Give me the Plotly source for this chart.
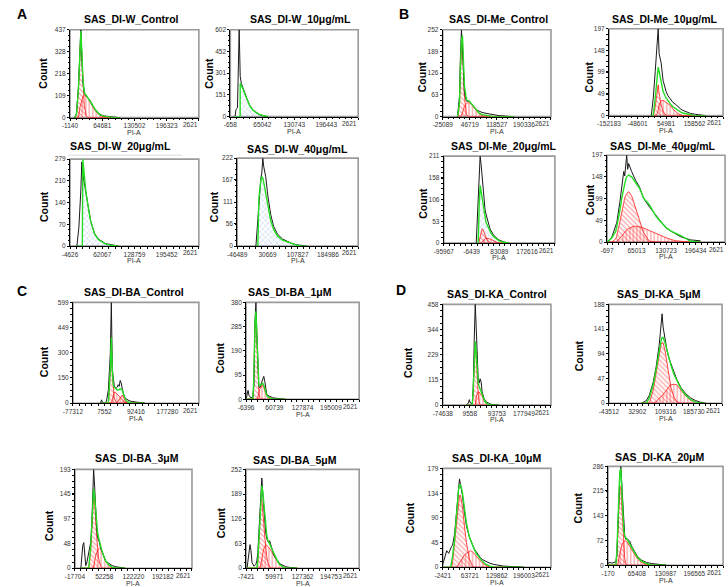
import plotly.graph_objects as go

W, H = 728, 587
FONT = "Arial, Liberation Sans, sans-serif"
X_END = 262144

# ---------------- A: SAS_DI-W ----------------
a1_x = [8000, 12000, 16000, 19000, 21000, 23000, 25000, 28000, 32000, 36000, 40000, 45000, 50000, 55000, 60000, 70000, 80000, 90000, 100000]
a1_raw = [0, 20, 150, 380, 437, 300, 180, 120, 110, 100, 85, 60, 40, 25, 15, 8, 5, 3, 0]
a1_fit = [0, 15, 140, 360, 430, 330, 200, 125, 110, 100, 85, 62, 40, 25, 14, 6, 2, 0, 0]
a1_g1 = [0, 15, 140, 355, 420, 310, 170, 60, 10, 0, 0, 0, 0, 0, 0, 0, 0, 0, 0]
a1_s = [0, 0, 0, 50, 70, 95, 105, 110, 105, 95, 80, 55, 35, 20, 10, 2, 0, 0, 0]

a2_x = [9000, 11000, 14000, 16000, 17500, 19000, 19500, 19600, 22000, 25000, 30000, 35000, 40000, 46000, 52000, 58000, 66000, 76000]
a2_raw = [0, 50, 60, 400, 602, 380, 300, 280, 230, 200, 150, 110, 75, 45, 28, 15, 6, 0]
a2_fit = [0, 0, 0, 0, 0, 0, 0, 230, 215, 195, 150, 105, 70, 45, 28, 17, 8, 2]

a3_x = [9629, 13701, 17774, 19811, 20829, 21847, 23884, 27956, 34066, 38138, 46284, 54430, 68684, 78866, 95158]
a3_raw = [0, 60, 180, 270, 240, 230, 210, 175, 120, 80, 40, 22, 8, 4, 0]
a3_fit = [0, 0, 0, 0, 0, 279, 235, 178, 115, 80, 38, 20, 7, 3, 0]

a4_x = [1186, 6204, 8713, 11222, 13731, 16240, 18749, 21258, 26277, 31296, 38825, 46353, 56390, 68935, 81480, 94025, 106570, 119115, 131660]
a4_raw = [0, 80, 120, 150, 170, 185, 222, 200, 175, 130, 80, 50, 30, 18, 12, 6, 3, 1, 0]
a4_fit = [0, 0, 120, 150, 165, 175, 172, 160, 130, 100, 65, 42, 25, 15, 10, 5, 2, 0, 0]

# ---------------- B: SAS_DI-Me ----------------
b1_x = [14079, 19301, 21913, 24524, 27135, 29746, 32357, 37580, 40191, 45413, 50636, 53247, 58469, 63692, 71525, 79359, 97637, 110693, 123749, 149861, 162917]
b1_raw = [0, 60, 180, 252, 200, 150, 70, 45, 45, 45, 38, 35, 28, 20, 15, 12, 8, 5, 3, 1, 0]
b1_fit = [0, 40, 150, 220, 235, 150, 90, 50, 47, 45, 38, 35, 25, 18, 10, 6, 2, 0, 0, 0, 0]
b1_g1 = [0, 35, 140, 200, 220, 140, 60, 8, 2, 0, 0, 0, 0, 0, 0, 0, 0, 0, 0, 0, 0]
b1_s = [0, 0, 0, 5, 10, 20, 30, 38, 40, 40, 36, 33, 25, 18, 8, 3, 0, 0, 0, 0, 0]

b2_x = [1404, 8548, 15692, 19263, 22835, 26407, 29979, 33551, 37122, 44266, 54981, 62125, 72840, 79984, 90699, 97843, 108558, 115702, 144276, 162135, 179994, 197853]
b2_raw = [0, 40, 100, 130, 150, 197, 140, 130, 120, 80, 55, 45, 35, 30, 25, 20, 15, 12, 5, 3, 2, 0]
b2_fit = [0, 0, 40, 60, 90, 110, 100, 90, 80, 55, 40, 33, 25, 20, 15, 12, 8, 6, 2, 0, 0, 0]
b2_g1 = [0, 0, 20, 40, 60, 70, 50, 35, 25, 10, 0, 0, 0, 0, 0, 0, 0, 0, 0, 0, 0, 0]
b2_s = [0, 0, 0, 0, 5, 12, 25, 30, 33, 35, 30, 28, 22, 15, 8, 5, 2, 0, 0, 0, 0, 0]

b3_x = [8613, 14952, 18121, 21290, 24459, 27628, 30797, 33966, 37135, 40304, 43473, 46643, 52981, 56150, 65657, 78334, 81503, 97348, 113194]
b3_raw = [0, 120, 180, 211, 190, 160, 130, 105, 80, 70, 60, 50, 35, 30, 18, 10, 8, 3, 0]
b3_fit = [0, 0, 90, 140, 125, 110, 90, 70, 58, 50, 45, 40, 28, 24, 15, 7, 6, 2, 0]
b3_g1 = [0, 0, 5, 15, 28, 35, 32, 25, 18, 12, 8, 4, 0, 0, 0, 0, 0, 0, 0]
b3_s = [0, 0, 0, 0, 0, 3, 6, 9, 11, 12, 12, 11, 10, 9, 5, 1, 0, 0, 0]

b4_x = [-697, 5874, 10255, 19016, 21206, 27777, 32158, 36538, 38728, 40919, 43109, 45299, 47490, 54061, 58441, 62822, 71583, 75964, 80344, 93486, 108818, 119770, 124150, 130721, 141672, 152624, 163576, 185479, 207382]
b4_raw = [0, 5, 12, 35, 45, 90, 125, 160, 150, 185, 197, 165, 178, 160, 150, 140, 125, 114, 100, 80, 60, 45, 40, 32, 25, 18, 12, 5, 3]
b4_fit = [0, 5, 10, 25, 35, 70, 100, 125, 135, 142, 148, 151, 152, 148, 142, 135, 122, 112, 100, 85, 58, 45, 40, 33, 25, 20, 15, 2, 0]
b4_g1 = [0, 0, 0, 8, 15, 45, 70, 92, 100, 106, 111, 113, 114, 105, 92, 78, 48, 35, 22, 2, 0, 0, 0, 0, 0, 0, 0, 0, 0]
b4_s = [0, 0, 0, 0, 2, 8, 14, 20, 23, 26, 28, 30, 31, 34, 36, 36, 35, 34, 32, 26, 20, 15, 13, 10, 6, 3, 2, 0, 0]

# ---------------- C: SAS_DI-BA ----------------
c1_x = [-3056, -404, 2248, 7552, 12856, 18160, 23464, 26116, 28768, 31420, 34072, 39376, 42028, 44680, 47332, 49984, 52636, 55288, 57940, 60592, 63244, 65896, 68548, 71200, 73852, 81808, 97720, 116284]
c1_raw = [0, 20, 5, 0, 10, 80, 300, 599, 200, 150, 100, 90, 95, 110, 100, 135, 120, 90, 60, 40, 30, 25, 22, 20, 15, 10, 5, 0]
c1_fit = [0, 0, 0, 0, 0, 0, 200, 390, 200, 110, 95, 80, 78, 78, 80, 85, 82, 78, 60, 40, 25, 15, 10, 7, 5, 0, 0, 0]
c1_g1 = [0, 0, 0, 0, 0, 0, 190, 380, 180, 80, 30, 5, 0, 0, 0, 0, 0, 0, 0, 0, 0, 0, 0, 0, 0, 0, 0, 0]
c1_s = [0, 0, 0, 0, 0, 0, 0, 0, 20, 45, 65, 60, 55, 45, 40, 35, 28, 20, 12, 8, 5, 2, 0, 0, 0, 0, 0, 0]
c1_g2 = [0, 0, 0, 0, 0, 0, 0, 0, 0, 0, 0, 0, 0, 15, 25, 35, 45, 48, 40, 25, 12, 4, 0, 0, 0, 0, 0, 0]

c2_x = [-6396, -4061, -1726, 609, 5280, 9950, 12285, 14620, 16955, 19290, 21625, 23960, 26295, 28630, 30966, 33301, 35636, 37971, 40306, 42641, 44976, 49646, 54317, 56652, 63657, 72997, 87008]
c2_raw = [0, 20, 35, 15, 5, 10, 60, 300, 380, 250, 120, 50, 45, 55, 70, 75, 90, 70, 35, 20, 15, 10, 8, 6, 4, 2, 0]
c2_fit = [0, 0, 0, 0, 0, 0, 100, 300, 345, 240, 100, 55, 53, 55, 60, 62, 55, 40, 25, 15, 10, 5, 2, 0, 0, 0, 0]
c2_g1 = [0, 0, 0, 0, 0, 0, 90, 290, 330, 230, 90, 30, 5, 0, 0, 0, 0, 0, 0, 0, 0, 0, 0, 0, 0, 0, 0]
c2_s = [0, 0, 0, 0, 0, 0, 0, 0, 0, 0, 10, 30, 40, 45, 55, 55, 48, 35, 22, 12, 8, 3, 0, 0, 0, 0, 0]

c3_x = [-3594, 1110, 3461, 5813, 8165, 10516, 15220, 19923, 22275, 24627, 26978, 29330, 31682, 34033, 36385, 38737, 41088, 43440, 48144, 55199, 62254, 71661, 78716, 85771, 102233]
c3_raw = [0, 45, 50, 30, 5, 10, 30, 50, 80, 130, 193, 160, 110, 80, 60, 55, 50, 40, 30, 15, 10, 5, 3, 2, 0]
c3_fit = [0, 0, 0, 0, 0, 0, 0, 40, 80, 120, 155, 140, 110, 85, 70, 60, 52, 45, 30, 15, 7, 2, 0, 0, 0]
c3_g1 = [0, 0, 0, 0, 0, 0, 0, 35, 75, 115, 145, 130, 95, 60, 38, 20, 10, 5, 0, 0, 0, 0, 0, 0, 0]
c3_s = [0, 0, 0, 0, 0, 0, 0, 0, 0, 0, 5, 12, 25, 30, 35, 38, 40, 38, 30, 15, 6, 0, 0, 0, 0]

c4_x = [-5077, -389, 1955, 4299, 6643, 11331, 16019, 18363, 20707, 23051, 25395, 27739, 30083, 32427, 34771, 37115, 39459, 41803, 44147, 46491, 48835, 53523, 58211, 62899, 67587, 72275, 76963, 81651, 86339, 95715, 114467]
c4_raw = [0, 40, 60, 45, 15, 5, 10, 20, 40, 90, 140, 200, 230, 190, 150, 110, 90, 75, 70, 65, 70, 50, 35, 25, 20, 12, 9, 6, 4, 2, 0]
c4_fit = [0, 0, 0, 0, 0, 0, 0, 0, 20, 70, 140, 195, 210, 195, 165, 130, 100, 85, 72, 68, 62, 50, 38, 27, 18, 10, 5, 2, 0, 0, 0]
c4_g1 = [0, 0, 0, 0, 0, 0, 0, 0, 15, 60, 125, 170, 175, 150, 115, 80, 50, 30, 15, 7, 3, 0, 0, 0, 0, 0, 0, 0, 0, 0, 0]
c4_s = [0, 0, 0, 0, 0, 0, 0, 0, 0, 0, 0, 10, 25, 40, 50, 55, 60, 58, 56, 52, 50, 42, 33, 25, 17, 10, 5, 2, 0, 0, 0]

# ---------------- D: SAS_DI-KA ----------------
d1_x = [-1157, 4966, 8028, 11090, 17213, 20275, 23336, 26398, 29460, 32522, 35583, 38645, 41707, 44768, 47830, 53953, 60077, 69262, 75385, 84570, 99879]
d1_raw = [0, 10, 25, 10, 5, 80, 300, 458, 350, 200, 120, 100, 120, 105, 60, 30, 15, 8, 4, 2, 0]
d1_fit = [0, 0, 0, 0, 0, 80, 200, 290, 240, 150, 100, 85, 75, 62, 50, 25, 10, 2, 0, 0, 0]
d1_g1 = [0, 0, 0, 0, 0, 80, 190, 280, 220, 120, 50, 15, 0, 0, 0, 0, 0, 0, 0, 0, 0]
d1_s = [0, 0, 0, 0, 0, 0, 0, 0, 40, 50, 60, 60, 55, 48, 40, 20, 8, 0, 0, 0, 0]

d2_x = [44199, 57488, 65462, 76094, 84067, 92041, 97357, 100015, 102673, 107988, 113304, 118620, 123936, 131909, 139883, 150515, 163804, 177094, 190383, 203673, 216962]
d2_raw = [0, 5, 15, 40, 70, 110, 150, 170, 145, 120, 100, 85, 75, 60, 45, 30, 18, 10, 5, 2, 0]
d2_fit = [0, 0, 10, 35, 65, 100, 120, 125, 125, 115, 100, 85, 72, 55, 42, 28, 15, 7, 2, 0, 0]
d2_g1 = [0, 0, 0, 25, 60, 95, 112, 115, 115, 100, 75, 50, 30, 12, 3, 0, 0, 0, 0, 0, 0]
d2_s = [0, 0, 0, 0, 3, 10, 12, 14, 16, 20, 26, 32, 35, 36, 35, 25, 14, 6, 2, 0, 0]

d3_x = [-2421, 2389, 7199, 12010, 16820, 19225, 21630, 26440, 31250, 36061, 38466, 40871, 45681, 50491, 55301, 62517, 64922, 69732, 74542, 79352, 84163, 88973, 93783, 98593, 103403, 110619, 113024, 122644, 134670, 146695, 170746, 194796]
d3_raw = [5, 20, 30, 25, 35, 38, 40, 60, 100, 140, 160, 150, 130, 100, 75, 55, 50, 40, 33, 28, 22, 18, 14, 12, 10, 8, 7, 5, 3, 2, 1, 0]
d3_fit = [0, 0, 0, 0, 0, 10, 20, 50, 100, 140, 148, 150, 135, 105, 80, 55, 50, 40, 32, 25, 20, 15, 11, 8, 5, 3, 2, 0, 0, 0, 0, 0]
d3_g1 = [0, 0, 0, 0, 0, 0, 10, 45, 90, 125, 130, 130, 110, 75, 45, 15, 10, 3, 0, 0, 0, 0, 0, 0, 0, 0, 0, 0, 0, 0, 0, 0]
d3_s = [0, 0, 0, 0, 0, 0, 0, 0, 0, 5, 8, 10, 15, 22, 25, 29, 30, 28, 25, 20, 15, 12, 8, 5, 3, 1, 0, 0, 0, 0, 0, 0]

d4_x = [-170, 4314, 8798, 13282, 17766, 20008, 22250, 24492, 26734, 28976, 31218, 33460, 35702, 37944, 40186, 42428, 44670, 49154, 53638, 60364, 67090, 76058, 87268, 98478, 109688, 120898, 132108]
d4_raw = [5, 8, 6, 8, 10, 30, 100, 200, 260, 286, 230, 160, 110, 85, 75, 78, 75, 70, 55, 40, 25, 15, 8, 5, 3, 1, 0]
d4_fit = [0, 0, 0, 0, 0, 40, 120, 220, 270, 280, 220, 140, 100, 85, 78, 75, 72, 62, 50, 35, 22, 12, 5, 1, 0, 0, 0]
d4_g1 = [0, 0, 0, 0, 0, 30, 110, 200, 230, 225, 170, 100, 50, 20, 5, 0, 0, 0, 0, 0, 0, 0, 0, 0, 0, 0, 0]
d4_s = [0, 0, 0, 0, 0, 0, 0, 20, 35, 50, 58, 65, 68, 70, 70, 68, 65, 55, 45, 30, 18, 8, 2, 0, 0, 0, 0]

titles = ["SAS_DI-W_Control", "SAS_DI-W_10μg/mL", "SAS_DI-W_20μg/mL", "SAS_DI-W_40μg/mL",
          "SAS_DI-Me_Control", "SAS_DI-Me_10μg/mL", "SAS_DI-Me_20μg/mL", "SAS_DI-Me_40μg/mL",
          "SAS_DI-BA_Control", "SAS_DI-BA_1μM", "SAS_DI-BA_3μM", "SAS_DI-BA_5μM",
          "SAS_DI-KA_Control", "SAS_DI-KA_5μM", "SAS_DI-KA_10μM", "SAS_DI-KA_20μM"]

x_ticks = [[-1140, 64681, 130502, 196323], [-658, 65042, 130743, 196443],
           [-4626, 62067, 128759, 195452], [-46489, 30669, 107827, 184986],
           [-25089, 46719, 118527, 190336], [-152183, -48601, 54981, 158562],
           [-95967, -6439, 83089, 172616], [-697, 65013, 130723, 196434],
           [-77312, 7552, 92416, 177280], [-6396, 60739, 127874, 195009],
           [-17704, 52258, 122220, 192182], [-7421, 59971, 127362, 194753],
           [-74638, 9558, 93753, 177949], [-43512, 32902, 109316, 185730],
           [-2421, 63721, 129862, 196003], [-170, 65408, 130987, 196565]]
x_last_label = "2621"

y_ticks = [[0, 109, 218, 328, 437], [0, 151, 301, 452, 602], [0, 70, 140, 210, 279], [0, 56, 111, 167, 222],
           [0, 63, 126, 189, 252], [0, 49, 99, 148, 197], [0, 53, 106, 158, 211], [0, 49, 99, 148, 197],
           [0, 150, 300, 449, 599], [0, 95, 190, 285, 380], [0, 48, 97, 145, 193], [0, 63, 126, 189, 252],
           [0, 115, 229, 344, 458], [0, 47, 94, 141, 188], [0, 45, 90, 134, 179], [0, 72, 143, 215, 286]]

panels = [
    dict(x=a1_x, raw=a1_raw, fit=a1_fit, g1=a1_g1, s=a1_s),
    dict(x=a2_x, raw=a2_raw, fit=a2_fit, blue=True),
    dict(x=a3_x, raw=a3_raw, fit=a3_fit, blue=True),
    dict(x=a4_x, raw=a4_raw, fit=a4_fit, blue=True),
    dict(x=b1_x, raw=b1_raw, fit=b1_fit, g1=b1_g1, s=b1_s),
    dict(x=b2_x, raw=b2_raw, fit=b2_fit, g1=b2_g1, s=b2_s),
    dict(x=b3_x, raw=b3_raw, fit=b3_fit, g1=b3_g1, s=b3_s, blue=True),
    dict(x=b4_x, raw=b4_raw, fit=b4_fit, g1=b4_g1, s=b4_s),
    dict(x=c1_x, raw=c1_raw, fit=c1_fit, g1=c1_g1, s=c1_s, g2=c1_g2),
    dict(x=c2_x, raw=c2_raw, fit=c2_fit, g1=c2_g1, s=c2_s),
    dict(x=c3_x, raw=c3_raw, fit=c3_fit, g1=c3_g1, s=c3_s),
    dict(x=c4_x, raw=c4_raw, fit=c4_fit, g1=c4_g1, s=c4_s),
    dict(x=d1_x, raw=d1_raw, fit=d1_fit, g1=d1_g1, s=d1_s),
    dict(x=d2_x, raw=d2_raw, fit=d2_fit, g1=d2_g1, s=d2_s),
    dict(x=d3_x, raw=d3_raw, fit=d3_fit, g1=d3_g1, s=d3_s),
    dict(x=d4_x, raw=d4_raw, fit=d4_fit, g1=d4_g1, s=d4_s),
]

# pixel layout: box left, right, top, bottom, title x, y, "Count" x, y
boxes = [
    (59, 190, 26, 115, 121, 15, 32, 70), (222, 352, 26, 114, 293, 15, 200, 70),
    (59, 190, 157, 245, 110, 144, 32, 205), (229, 352, 156, 245, 290, 147, 205, 205),
    (438, 548, 26, 114, 495, 15, 417, 74), (607, 723, 25, 113, 664, 15, 587, 74),
    (439, 552, 154, 242, 500, 144, 417, 202), (605, 725, 153, 241, 662, 144, 587, 198),
    (62, 190, 302, 404, 124, 291, 32, 362), (238, 353, 302, 400, 283, 291, 211, 358),
    (64, 183, 471, 571, 127, 459, 37, 528), (238, 353, 471, 571, 288, 461, 212, 525),
    (438, 548, 304, 406, 493, 293, 402, 363), (607, 722, 304, 404, 658, 293, 576, 356),
    (438, 548, 470, 570, 493, 459, 404, 520), (606, 723, 468, 568, 659, 458, 575, 510),
]

letters = [("A", 3, 10), ("B", 391, 10), ("C", 3, 290), ("D", 388, 289)]


def pattern(shape, color, size=4, solidity=0.3):
    return dict(shape=shape, fgcolor=color, bgcolor="rgba(255,255,255,0)", size=size, solidity=solidity)


fig = go.Figure()
annotations = []
shapes = []
tick_font = dict(size=6.5, color="#333", family=FONT)

for i, p in enumerate(panels, start=1):
    xa = "x" if i == 1 else "x%d" % i
    ya = "y" if i == 1 else "y%d" % i
    l, r, t, b, tx, ty, cx, cy = boxes[i - 1]
    xmin = x_ticks[i - 1][0]
    ymax = y_ticks[i - 1][-1]

    if p.get("blue"):
        fig.add_trace(go.Scatter(x=p["x"], y=p["fit"], mode="lines", fill="tozeroy",
                                 fillcolor="rgba(255,255,255,0)", line=dict(width=0),
                                 fillpattern=pattern("x", "#6fa3d8", 4, 0.25),
                                 xaxis=xa, yaxis=ya))
    for key, shp in (("g1", "\\"), ("s", "|"), ("g2", "/")):
        if key in p:
            fig.add_trace(go.Scatter(x=p["x"], y=p[key], mode="lines", fill="tozeroy",
                                     fillcolor="rgba(255,255,255,0)",
                                     line=dict(color="#ff1a1a", width=0.8),
                                     fillpattern=pattern(shp, "#ff2020", 3.5, 0.3),
                                     xaxis=xa, yaxis=ya))
    fig.add_trace(go.Scatter(x=p["x"], y=p["raw"], mode="lines",
                             line=dict(color="#1a1a1a", width=1), xaxis=xa, yaxis=ya))
    fig.add_trace(go.Scatter(x=p["x"], y=p["fit"], mode="lines",
                             line=dict(color="#22dd22", width=1.4), xaxis=xa, yaxis=ya))

    xt = x_ticks[i - 1] + [X_END]
    xtext = [str(v) for v in x_ticks[i - 1]] + [""]
    yt = y_ticks[i - 1]

    fig.update_layout(**{
        ("xaxis" if i == 1 else "xaxis%d" % i): dict(
            domain=[l / W, r / W], anchor=ya, range=[xmin, X_END],
            tickvals=xt, ticktext=xtext, showgrid=False, zeroline=False,
            showline=True, linecolor="black", linewidth=1, ticks="outside",
            ticklen=2, tickcolor="black", tickfont=tick_font,
            minor=dict(ticks="outside", ticklen=1.5, tickcolor="black",
                       tick0=xmin, dtick=(X_END - xmin) / 20)),
        ("yaxis" if i == 1 else "yaxis%d" % i): dict(
            domain=[1 - b / H, 1 - t / H], anchor=xa, range=[0, ymax],
            tickvals=yt, ticktext=[str(v) for v in yt], showgrid=False, zeroline=False,
            showline=True, linecolor="black", linewidth=1, ticks="outside",
            ticklen=2, tickcolor="black", tickfont=tick_font,
            minor=dict(ticks="outside", ticklen=1.5, tickcolor="black",
                       tick0=0, dtick=ymax / 16)),
    })

    shapes.append(dict(type="rect", xref=xa + " domain", yref=ya + " domain",
                       x0=0, x1=1, y0=0, y1=1, layer="below",
                       line=dict(color="#9a9a9a", width=1.6)))

    # truncated last x label, right-aligned at the frame edge
    annotations.append(dict(x=(r + 1) / W, y=1 - (b + 7) / H, xref="paper", yref="paper",
                            text=x_last_label, showarrow=False, font=tick_font,
                            xanchor="right", yanchor="middle"))
    annotations.append(dict(x=tx / W, y=1 - ty / H, xref="paper", yref="paper",
                            text="<b>%s</b>" % titles[i - 1], showarrow=False,
                            font=dict(size=10.5, color="black", family=FONT),
                            xanchor="center", yanchor="middle"))
    annotations.append(dict(x=cx / W, y=1 - cy / H, xref="paper", yref="paper",
                            text="<b>Count</b>", textangle=-90, showarrow=False,
                            font=dict(size=10.5, color="black", family=FONT),
                            xanchor="center", yanchor="middle"))
    annotations.append(dict(x=(l + r) / 2 / W, y=1 - (b + 15) / H, xref="paper", yref="paper",
                            text="PI-A", showarrow=False,
                            font=dict(size=7, color="#333", family=FONT),
                            xanchor="center", yanchor="middle"))

for txt, lx, ly in letters:
    annotations.append(dict(x=lx / W, y=1 - ly / H, xref="paper", yref="paper",
                            text="<b>%s</b>" % txt, showarrow=False,
                            font=dict(size=14, color="black", family=FONT),
                            xanchor="left", yanchor="middle"))

# faint rule under the SAS_DI-W_20 title
shapes.append(dict(type="line", xref="paper", yref="paper", x0=57 / W, x1=173 / W,
                   y0=1 - 153 / H, y1=1 - 153 / H, line=dict(color="#dcdcdc", width=1)))

fig.update_layout(width=W, height=H, margin=dict(l=0, r=0, t=0, b=0),
                  paper_bgcolor="white", plot_bgcolor="white", showlegend=False,
                  annotations=annotations, shapes=shapes, font=dict(family=FONT))

fig.write_html("out.html", config={"displayModeBar": False},
               post_script="document.body.style.margin='0';document.body.style.overflow='hidden';")
